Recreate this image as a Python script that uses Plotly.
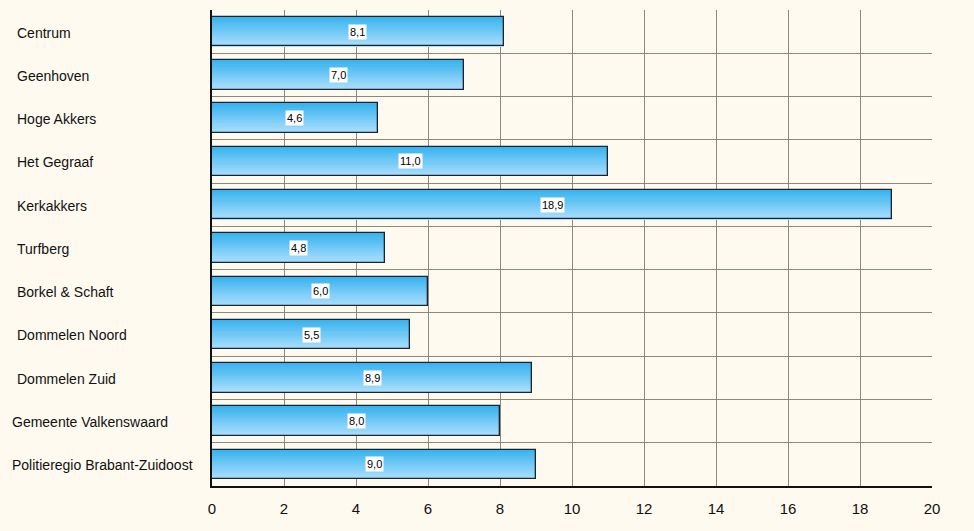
import plotly.graph_objects as go

categories = ["Centrum", "Geenhoven", "Hoge Akkers", "Het Gegraaf", "Kerkakkers",
              "Turfberg", "Borkel & Schaft", "Dommelen Noord", "Dommelen Zuid",
              "Gemeente Valkenswaard", "Politieregio Brabant-Zuidoost"]
values = [8.1, 7.0, 4.6, 11.0, 18.9, 4.8, 6.0, 5.5, 8.9, 8.0, 9.0]
x_ticks = [0, 2, 4, 6, 8, 10, 12, 14, 16, 18, 20]

pos = list(range(len(categories)))
bar_w = 0.68
n_strips = 14
top_rgb = (58, 180, 238)
bot_rgb = (170, 222, 252)
bg = "#fefaf0"

fig = go.Figure()
for k in range(n_strips):
    t = k / (n_strips - 1)
    c = tuple(round(a + (b - a) * t) for a, b in zip(top_rgb, bot_rgb))
    fig.add_trace(go.Bar(
        x=values, y=pos, orientation="h",
        width=bar_w / n_strips + 0.005,
        offset=-bar_w / 2 + k * bar_w / n_strips,
        marker=dict(color="rgb(%d,%d,%d)" % c, line=dict(width=0)),
        hoverinfo="skip", showlegend=False))
fig.add_trace(go.Bar(
    x=values, y=pos, orientation="h", width=bar_w,
    marker=dict(color="rgba(0,0,0,0)", line=dict(color="#1a2430", width=1.3)),
    showlegend=False))

for p, v in zip(pos, values):
    fig.add_annotation(x=v / 2, y=p, xref="x", yref="y",
                       text=("%.1f" % v).replace(".", ","), showarrow=False,
                       bgcolor="white", borderpad=1,
                       font=dict(family="Liberation Sans, Arial", size=11, color="black"))

for p, name in zip(pos, categories):
    fig.add_annotation(x=-0.281 if len(name) > 18 else -0.274, y=p + 0.02, xref="paper", yref="y",
                       text=name, showarrow=False, xanchor="left",
                       font=dict(family="Liberation Sans, Arial", size=14, color="#111"))

fig.update_layout(
    width=966, height=523,
    margin=dict(l=204, r=42, t=2, b=45, autoexpand=False),
    paper_bgcolor=bg, plot_bgcolor=bg,
    barmode="overlay", bargap=0,
    font=dict(family="Liberation Sans, Arial", size=14, color="#111"),
    xaxis=dict(range=[0, 20], tickvals=x_ticks, ticktext=[str(t) for t in x_ticks],
               showgrid=True, gridcolor="#8c887c", gridwidth=1.3,
               zeroline=False, showline=True, linecolor="#111", linewidth=1.5,
               ticks="outside", ticklen=8, tickcolor=bg, tickfont=dict(size=15)),
    yaxis=dict(range=[len(categories) - 0.5, -0.5], tickvals=pos,
               showticklabels=False, showgrid=False, zeroline=False,
               showline=True, linecolor="#111", linewidth=1.5,
               minor=dict(tick0=0.5, dtick=1, showgrid=True,
                          gridcolor="#8c887c", gridwidth=1.3)),
)

fig.write_html("out.html",
               post_script="document.body.style.background='%s';" % bg)
